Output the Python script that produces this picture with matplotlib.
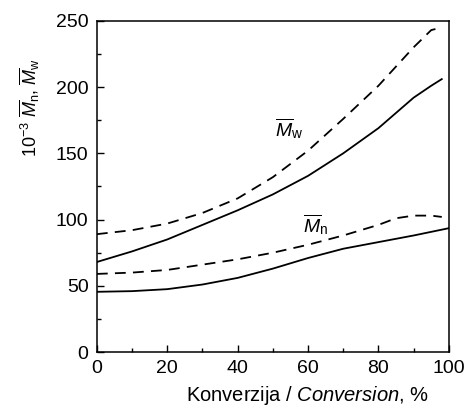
import matplotlib
matplotlib.use("Agg")
import matplotlib.pyplot as plt
from matplotlib.ticker import MultipleLocator

plt.rcParams['font.family'] = ['Liberation Sans', 'DejaVu Sans']
plt.rcParams['mathtext.fontset'] = 'custom'
plt.rcParams['mathtext.rm'] = 'Liberation Sans'
plt.rcParams['mathtext.it'] = 'Liberation Sans:italic'
plt.rcParams['mathtext.bf'] = 'Liberation Sans:bold'

# values
conv_w = [0, 10, 20, 30, 40, 50, 60, 70, 80, 90, 95, 98]
mw_solid = [68, 76, 85, 96, 107, 119, 133, 150, 169, 192, 201, 206]
mw_dash = [89, 92, 97, 105, 116, 132, 152, 176, 201, 230, 243, 245]

conv_nd = [0, 10, 20, 30, 40, 50, 60, 70, 80, 85, 90, 95, 98]
mn_dash = [59, 60, 62, 66, 70, 75, 81, 88, 96, 101, 103, 103, 102]

conv_ns = [0, 10, 20, 30, 40, 50, 60, 70, 80, 90, 100]
mn_solid = [45.5, 46, 47.5, 51, 56, 63, 71, 78, 83, 88, 93.5]

fig = plt.figure(figsize=(4.68, 4.08), dpi=100)
ax = fig.add_axes([0.207, 0.137, 0.752, 0.812])

lw = 1.3
dash = (0, (6, 4))
ax.plot(conv_w, mw_solid, color='black', lw=lw)
ax.plot(conv_w, mw_dash, color='black', lw=lw, linestyle=dash)
ax.plot(conv_nd, mn_dash, color='black', lw=lw, linestyle=dash)
ax.plot(conv_ns, mn_solid, color='black', lw=lw)

ax.text(50.5, 163, r'$\overline{M}_\mathrm{w}$', fontsize=14, ha='left', va='baseline')
ax.text(58.5, 91, r'$\overline{M}_\mathrm{n}$', fontsize=14, ha='left', va='baseline')

ax.set_xlim(0, 100)
ax.set_ylim(0, 250)
ax.xaxis.set_major_locator(MultipleLocator(20))
ax.xaxis.set_minor_locator(MultipleLocator(10))
ax.yaxis.set_major_locator(MultipleLocator(50))
ax.yaxis.set_minor_locator(MultipleLocator(25))
ax.tick_params(which='both', direction='in', labelsize=14, width=1)
ax.tick_params(which='major', length=5, pad=6)
ax.tick_params(which='minor', length=3)
for s in ax.spines.values():
    s.set_linewidth(1.1)

ax.set_xlabel(r'Konverzija / $\mathit{Conversion}$, %', fontsize=14.5)
ax.xaxis.set_label_coords(0.598, -0.095)
ax.set_ylabel(r'10$^{-3}$ $\overline{M}_\mathrm{n}$, $\overline{M}_\mathrm{w}$', fontsize=13)
ax.yaxis.set_label_coords(-0.157, 0.737)

fig.savefig('out.png', dpi=100)
